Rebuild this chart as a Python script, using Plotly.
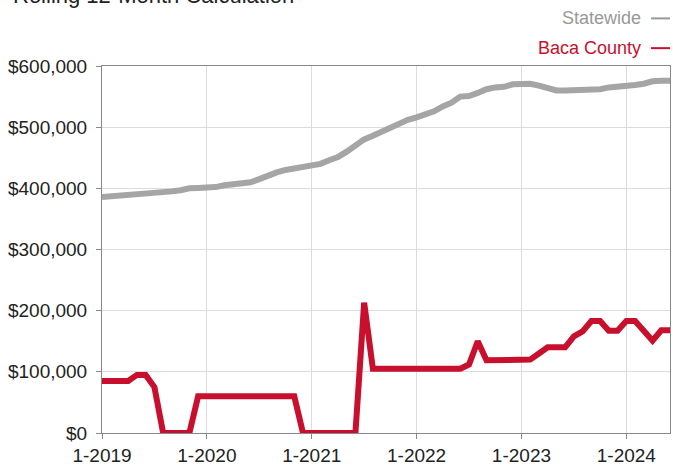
import plotly.graph_objects as go

# Month labels 1-2019 .. 6-2024
months = [f"{m}-{y}" for y in range(2019, 2025) for m in range(1, 13)][:66]

statewide = [
    386000, 387000, 388000, 389500, 390000, 390500, 392000, 394000, 395000, 397000, 400000, 400500,
    400500, 402000, 405000, 407000, 407000, 410000, 415000, 421000, 426000, 430000, 433000, 436000,
    439000, 440000, 446000, 451000, 460000, 470000, 480000, 486000, 493000, 500000, 506000, 512000,
    516000, 520000, 526000, 534000, 540000, 550000, 551000, 556000, 562000, 565000, 566000, 570000,
    571000, 571000, 568000, 564000, 560000, 560000, 560000, 560000, 560000, 562000, 565000, 566000,
    566000, 569000, 571000, 575000, 576000, 576000,
]

baca = [
    85000, 85000, 85000, 85000, 95000, 95000, 75000, 0, 0, 0, 0, 60000,
    60000, 60000, 60000, 60000, 60000, 60000, 60000, 60000, 60000, 60000, 60000, 0,
    0, 0, 0, 0, 0, 0, 213000, 105000, 105000, 105000, 105000, 105000,
    105000, 105000, 105000, 105000, 105000, 105000, 112000, 150000, 119000, 119000, 120000, 120000,
    120000, 120000, 130000, 140000, 140000, 140000, 158000, 166000, 183000, 183000, 167000, 167000,
    183000, 183000, 167000, 151000, 168000, 168000,
]

tick_positions = [0, 12, 24, 36, 48, 60]
tick_labels = ["1-2019", "1-2020", "1-2021", "1-2022", "1-2023", "1-2024"]
y_ticks = [0, 100000, 200000, 300000, 400000, 500000, 600000]

GRAY = "#a5a5a5"
RED = "#c8102e"
FONT = "Liberation Sans, Arial, Helvetica, sans-serif"

W, H = 673, 468
L, R, T, B = 102, 2, 66, 32
PW, PH = W - L - R, H - T - B


def px_x(p):
    return (p - L) / PW


def px_y(p):
    return (H - B - p) / PH


idx = list(range(len(months)))

fig = go.Figure()
fig.add_trace(go.Scatter(x=idx, y=statewide, mode="lines", name="Statewide",
                         line=dict(color=GRAY, width=6), hovertext=months))
fig.add_trace(go.Scatter(x=idx, y=baca, mode="lines", name="Baca County",
                         line=dict(color=RED, width=6), hovertext=months))

fig.update_layout(
    width=W, height=H,
    margin=dict(l=L, r=R, t=T, b=B),
    paper_bgcolor="white", plot_bgcolor="white",
    showlegend=False,
    font=dict(family=FONT, size=18, color="#222"),
)

fig.update_xaxes(
    range=[0, len(months) - 1],
    tickmode="array", tickvals=tick_positions, ticktext=tick_labels,
    showgrid=True, gridcolor="#dcdcdc", gridwidth=1,
    showline=True, linecolor="#888", linewidth=1, mirror=True,
    ticks="outside", ticklen=5, tickcolor="#888",
    zeroline=False, tickfont=dict(size=19, color="#222"),
)
fig.update_yaxes(
    range=[0, 600000], tickvals=y_ticks, tickformat="$,.0f",
    showgrid=True, gridcolor="#dcdcdc", gridwidth=1,
    showline=True, linecolor="#888", linewidth=1, mirror=True,
    ticks="outside", ticklen=5, tickcolor="#888", ticklabelstandoff=5,
    zeroline=False, tickfont=dict(size=19, color="#222"),
)

# Title (partly cut off at top in the reference)
fig.add_annotation(text="Rolling 12-Month Calculation", xref="paper", yref="paper",
                   x=px_x(11), y=px_y(-5), xanchor="left", yanchor="middle",
                   showarrow=False, font=dict(size=22, color="#222", family=FONT))

# Legend (text then dash, right-aligned)
for name, color, yp in [("Statewide", "#999999", 18), ("Baca County", RED, 48)]:
    fig.add_annotation(text=name, xref="paper", yref="paper",
                       x=px_x(644), y=px_y(yp), xanchor="right", yanchor="middle",
                       showarrow=False, font=dict(size=18, color=color, family=FONT))
    fig.add_shape(type="line", xref="paper", yref="paper",
                  x0=px_x(652), x1=px_x(671), y0=px_y(yp), y1=px_y(yp),
                  line=dict(color=color, width=2))

fig.write_html("out.html", config={"displayModeBar": False},
               post_script="document.body.style.margin='0';document.body.style.overflow='hidden';")
